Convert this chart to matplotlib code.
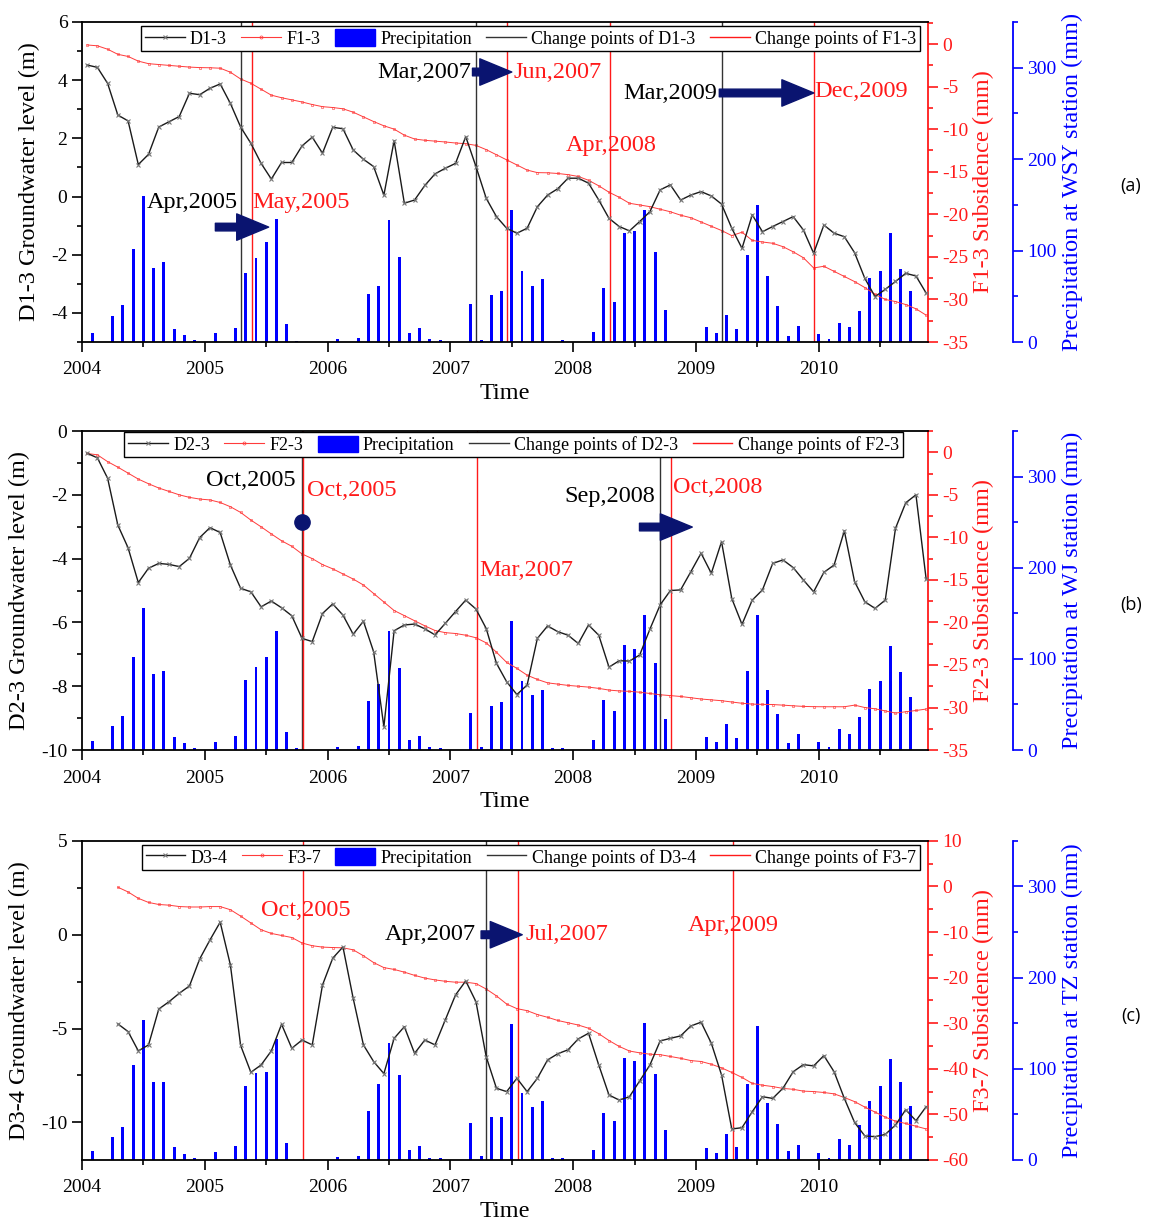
import numpy as np
import matplotlib.pyplot as plt
from matplotlib.lines import Line2D
from matplotlib.patches import Patch
from matplotlib.ticker import MultipleLocator

plt.rcParams['font.family'] = ['Liberation Serif', 'DejaVu Serif']
plt.rcParams['axes.unicode_minus'] = False

MONTHS = ["Jan", "Feb", "Mar", "Apr", "May", "Jun",
          "Jul", "Aug", "Sep", "Oct", "Nov", "Dec"]
N_MONTHS = 83  # Jan 2004 .. Nov 2010

# ---- groundwater level (m), monthly ----
d1_3 = [4.52, 4.44, 3.89, 2.80, 2.60, 1.10, 1.45, 2.39, 2.57, 2.75, 3.55, 3.50,
        3.72, 3.87, 3.20, 2.39, 1.83, 1.14, 0.60, 1.17, 1.17, 1.74, 2.04, 1.49,
        2.38, 2.33, 1.60, 1.28, 1.03, 0.05, 1.92, -0.23, -0.12, 0.38, 0.78, 0.97,
        1.14, 2.06, 1.03, -0.06, -0.69, -1.09, -1.26, -1.09, -0.35, 0.05, 0.27, 0.63,
        0.63, 0.46, -0.12, -0.75, -1.03, -1.18, -0.86, -0.52, 0.23, 0.40, -0.12, 0.05,
        0.17, 0.02, -0.26, -1.09, -1.78, -0.63, -1.21, -1.03, -0.86, -0.69, -1.15, -1.95,
        -0.98, -1.26, -1.38, -1.93, -2.81, -3.44, -3.19, -2.92, -2.64, -2.73, -3.32]
d2_3 = [-0.70, -0.84, -1.48, -2.95, -3.66, -4.75, -4.30, -4.15, -4.18, -4.25, -3.99, -3.34,
        -3.03, -3.18, -4.20, -4.93, -5.04, -5.51, -5.33, -5.54, -5.79, -6.50, -6.60, -5.72,
        -5.42, -5.77, -6.37, -5.96, -6.92, -9.27, -6.26, -6.08, -6.05, -6.20, -6.39, -6.03,
        -5.66, -5.30, -5.58, -6.19, -7.28, -7.86, -8.26, -7.96, -6.50, -6.11, -6.29, -6.40,
        -6.66, -6.08, -6.40, -7.40, -7.20, -7.21, -7.02, -6.21, -5.45, -5.00, -4.98, -4.41,
        -3.83, -4.46, -3.47, -5.25, -6.06, -5.30, -4.98, -4.15, -4.04, -4.28, -4.67, -5.04,
        -4.43, -4.20, -3.13, -4.72, -5.35, -5.56, -5.30, -3.05, -2.25, -2.00, -4.65]
# D3-4 starts in Apr 2004
d3_4 = [-4.75, -5.16, -6.19, -5.87, -3.96, -3.57, -3.12, -2.73, -1.29,
        -0.28, 0.67, -1.61, -5.90, -7.33, -6.94, -6.19, -4.77, -6.05, -5.61, -5.87, -2.68,
        -1.25, -0.65, -3.39, -5.87, -6.76, -7.40, -5.52, -4.90, -6.32, -5.61, -5.87, -4.54,
        -3.21, -2.46, -3.57, -6.50, -8.18, -8.36, -7.65, -8.36, -7.65, -6.67, -6.34, -6.13,
        -5.55, -5.25, -6.94, -8.54, -8.81, -8.63, -7.79, -6.94, -5.66, -5.52, -5.39, -4.86,
        -4.66, -5.78, -7.47, -10.35, -10.28, -9.43, -8.63, -8.72, -8.18, -7.30, -6.92, -6.99,
        -6.44, -7.30, -8.72, -10.00, -10.72, -10.76, -10.64, -10.14, -9.32, -9.91, -9.16]

# ---- subsidence (mm), monthly ----
f1_3 = [-0.1, -0.2, -0.6, -1.2, -1.45, -2.0, -2.3, -2.4, -2.5, -2.6, -2.7, -2.76,
        -2.78, -2.83, -3.3, -4.1, -4.6, -5.3, -6.0, -6.3, -6.55, -6.8, -7.1, -7.35,
        -7.45, -7.6, -8.0, -8.55, -9.1, -9.6, -9.99, -10.7, -11.15, -11.3, -11.4, -11.5,
        -11.62, -11.7, -11.9, -12.4, -13.0, -13.6, -14.2, -14.8, -15.1, -15.12, -15.2, -15.34,
        -15.55, -16.0, -16.65, -17.4, -18.0, -18.7, -18.9, -19.1, -19.4, -19.7, -20.1, -20.4,
        -20.9, -21.4, -21.9, -22.5, -22.1, -23.06, -23.25, -23.4, -23.8, -24.4, -25.1, -26.3,
        -26.1, -26.7, -27.3, -27.9, -28.6, -29.4, -30.0, -30.25, -30.6, -31.1, -31.85]
f2_3 = [-0.14, -0.3, -1.1, -1.75, -2.45, -3.15, -3.7, -4.2, -4.6, -5.0, -5.3, -5.5,
        -5.6, -5.9, -6.4, -7.07, -7.97, -8.76, -9.6, -10.4, -11.05, -11.95, -12.5, -13.2,
        -13.7, -14.3, -14.9, -15.6, -16.6, -17.6, -18.6, -19.2, -19.8, -20.4, -20.95, -21.2,
        -21.3, -21.5, -21.8, -22.4, -23.5, -24.7, -25.4, -26.2, -26.7, -27.1, -27.25, -27.4,
        -27.5, -27.6, -27.75, -27.95, -28.05, -28.1, -28.2, -28.35, -28.5, -28.6, -28.7, -28.85,
        -29.0, -29.1, -29.2, -29.35, -29.5, -29.6, -29.63, -29.65, -29.72, -29.8, -29.87, -29.9,
        -29.91, -29.91, -29.91, -29.72, -30.0, -30.15, -30.4, -30.65, -30.5, -30.35, -30.18]
f3_7 = [-0.16, -1.2, -2.6, -3.5, -3.95, -4.1, -4.4, -4.5, -4.5,
        -4.41, -4.41, -5.1, -6.5, -8.0, -9.5, -10.3, -10.75, -11.2, -12.4, -13.0, -13.3,
        -13.4, -13.45, -13.9, -15.2, -16.7, -17.8, -18.2, -18.8, -19.5, -20.1, -20.5, -20.8,
        -21.0, -21.0, -21.3, -22.5, -24.0, -25.8, -26.8, -27.25, -28.1, -28.7, -29.4, -29.9,
        -30.4, -31.1, -32.3, -33.8, -35.1, -36.1, -36.5, -36.8, -36.9, -37.3, -37.7, -38.2,
        -38.4, -39.0, -39.8, -40.8, -41.9, -43.2, -43.6, -43.9, -44.3, -44.5, -44.9, -45.0,
        -45.2, -45.5, -46.3, -47.2, -48.4, -49.5, -50.6, -51.5, -52.0, -52.6, -53.2]

# ---- monthly precipitation (mm) ----
p_wsy = [0, 10, 0, 28, 40, 102, 160, 81, 87, 14, 8, 2,
         0, 9.5, 0, 15, 75, 92, 109, 134, 20, 1.5, 0, 0,
         0, 3, 0, 4, 52, 61, 133, 93, 9.5, 15, 3, 2,
         0, 0, 42, 2, 51, 56, 144, 78, 61, 68.5, 0.5, 2,
         0, 0, 11, 59, 44, 119, 121, 144, 98, 35, 0, 0,
         0, 16, 9.5, 30, 14, 95, 150, 72, 39, 6.5, 17.5, 0,
         8.7, 3, 21, 16.4, 34, 70, 78, 119, 80, 56, 0]
p_wj = [0, 9.9, 0, 26.6, 37.6, 102, 156, 82.9, 86.5, 14.6, 7.3, 2.6,
        0, 9.1, 0, 15.3, 77.4, 91.6, 102, 131, 19.3, 1.8, 0, 0,
        0, 3.6, 0, 4.4, 53.7, 73, 130.7, 90.5, 11, 15.3, 2.9, 2.6,
        0, 0, 41.2, 3.6, 48.6, 52.2, 141.7, 75.6, 60.2, 66.4, 1.8, 2.6,
        0, 0, 11, 54.4, 43.1, 115, 110.6, 147.9, 95.7, 33.6, 0, 0,
        0, 13.9, 9.1, 28.5, 13.5, 86.5, 147.9, 66.4, 39.1, 8, 17.2, 0,
        8.4, 2.9, 23, 17.2, 36.5, 67.5, 75.9, 114.3, 85.1, 57.7, 0]
p_tz = [0, 9.9, 0, 25.6, 36.6, 104.2, 153.6, 85.2, 85.9, 14.6, 6.6, 2.6,
        0, 8.4, 0, 15.7, 81.2, 95.8, 96.9, 132.8, 18.3, 0, 0, 0,
        0, 2.9, 0, 4.4, 54.1, 83.4, 128, 93.3, 11, 15.7, 2.6, 1.8,
        0, 0, 40.2, 4.8, 47.6, 47.6, 148.9, 73.1, 58.5, 65.1, 1.8, 1.8,
        0, 0, 11, 51.2, 42.8, 111.5, 109, 150, 94, 32.6, 0, 0,
        0, 13.5, 8.1, 28.2, 14.3, 83.4, 147, 62.9, 39.1, 9.9, 16.5, 0,
        7.3, 1.8, 23, 16.5, 38.4, 65.1, 81.2, 110.4, 85.9, 59.2, 0]

# ---- change points ----
cp_d1_3 = ["Apr,2005", "Mar,2007", "Mar,2009"]
cp_f1_3 = ["May,2005", "Jun,2007", "Apr,2008", "Dec,2009"]
cp_d2_3 = ["Oct,2005", "Sep,2008"]
cp_f2_3 = ["Oct,2005", "Mar,2007", "Oct,2008"]
cp_d3_4 = ["Apr,2007"]
cp_f3_7 = ["Oct,2005", "Jul,2007", "Apr,2009"]

NAVY = "#0a1470"
RED = "#ff1a1a"
FRED = "#ff3b3b"
BLUE = "#0000ff"


def month_pos(label):
    mon, yr = label.split(",")
    return int(yr) + (MONTHS.index(mon) + 0.5) / 12


def mid_month(n, start=0):
    return 2004 + (np.arange(start, start + n) + 0.5) / 12


def style_ticks(a, color=None):
    kw = dict(which="both", direction="out", labelsize=14, width=1.2)
    if color:
        kw["colors"] = color
    a.tick_params(**kw)
    a.tick_params(which="major", length=7)
    a.tick_params(which="minor", length=3.5)


def draw_panel(rect, d, f, p, d_name, f_name, station, cp_d, cp_f,
               d_start, ylim_d, d_major, d_minor, ylim_f, f_major, f_minor,
               legend_anchor):
    ax = fig.add_axes(rect)
    ax_p = ax.twinx()
    ax_f = ax.twinx()
    ax.set_zorder(3)
    ax.patch.set_visible(False)
    ax_f.set_zorder(2)
    ax_p.set_zorder(1)

    t_bar = 2004 + np.arange(N_MONTHS) / 12
    ax_p.bar(t_bar, p, width=0.024, color=BLUE, linewidth=0)

    ax_f.plot(mid_month(len(f), d_start), f, color=FRED, lw=0.7,
              marker="o", ms=1.8, mfc="none", mew=0.4)

    for lab in cp_d:
        ax.axvline(month_pos(lab), color="#333333", lw=1.0)
    for lab in cp_f:
        ax.axvline(month_pos(lab) + 0.006, color=RED, lw=1.0)

    ax.plot(mid_month(len(d), d_start), d, color="#1a1a1a", lw=1.0,
            marker="x", ms=3.2, mec="#777777", mew=0.8)

    # axes cosmetics
    ax.set_xlim(2004, 2010.89)
    ax.set_ylim(*ylim_d)
    ax_f.set_ylim(*ylim_f)
    ax_p.set_ylim(0, 350)
    ax.xaxis.set_major_locator(MultipleLocator(1))
    ax.xaxis.set_minor_locator(MultipleLocator(0.5))
    ax.yaxis.set_major_locator(MultipleLocator(d_major))
    ax.yaxis.set_minor_locator(MultipleLocator(d_minor))
    ax_f.yaxis.set_major_locator(MultipleLocator(f_major))
    ax_f.yaxis.set_minor_locator(MultipleLocator(f_minor))
    ax_p.yaxis.set_major_locator(MultipleLocator(100))
    ax_p.yaxis.set_minor_locator(MultipleLocator(50))

    ax.spines["right"].set_visible(False)
    for a in (ax_f, ax_p):
        for s in ("left", "top", "bottom"):
            a.spines[s].set_visible(False)
    ax_f.spines["right"].set_color(RED)
    ax_p.spines["right"].set_color(BLUE)
    ax_p.spines["right"].set_position(("outward", 61))
    for a in (ax, ax_f, ax_p):
        for s in a.spines.values():
            s.set_linewidth(1.3)

    style_ticks(ax)
    ax.tick_params(axis="x", which="major", pad=7)
    style_ticks(ax_f, RED)
    style_ticks(ax_p, BLUE)

    ax.set_xlabel("Time", fontsize=17.5, labelpad=3)
    ax.set_ylabel(f"{d_name} Groundwater level (m)", fontsize=17.5, labelpad=8)
    ax_f.set_ylabel(f"{f_name} Subsidence (mm)", fontsize=17.5, color=RED,
                    labelpad=3)
    ax_p.set_ylabel(f"Precipitation at {station} station (mm)", fontsize=17.5,
                    color=BLUE, labelpad=4)

    handles = [
        Line2D([], [], color="#1a1a1a", lw=1.0, marker="x", ms=3.2,
               mec="#777777", mew=0.8),
        Line2D([], [], color=FRED, lw=0.8, marker="o", ms=2.2, mfc="none",
               mew=0.5),
        Patch(facecolor=BLUE, edgecolor=BLUE),
        Line2D([], [], color="#333333", lw=1.0),
        Line2D([], [], color=RED, lw=1.0),
    ]
    labels = [d_name, f_name, "Precipitation",
              f"Change points of {d_name}", f"Change points of {f_name}"]
    leg = ax.legend(handles, labels, ncol=5, loc="upper right",
                    bbox_to_anchor=legend_anchor, fontsize=13, frameon=True,
                    fancybox=False, edgecolor="black", framealpha=1,
                    borderpad=0.2, handlelength=2.2, handletextpad=0.3,
                    columnspacing=0.8, handleheight=1.0, borderaxespad=0)
    leg.get_frame().set_linewidth(1.0)
    return ax


def arrow(ax, x0, x1, y):
    ax.annotate("", xy=(x1, y), xytext=(x0, y),
                arrowprops=dict(arrowstyle="simple,head_width=1.9,head_length=2.3,tail_width=0.55",
                                color=NAVY, mutation_scale=10,
                                shrinkA=0, shrinkB=0))


fig = plt.figure(figsize=(11.57, 12.21), dpi=100)
LEFT, WIDTH = 0.0709, 0.7312

ax_a = draw_panel([LEFT, 0.7199, WIDTH, 0.2621], d1_3, f1_3, p_wsy,
                  "D1-3", "F1-3", "WSY", cp_d1_3, cp_f1_3, 0,
                  (-5, 6), 2, 1, (-35, 2.6), 5, 2.5, (0.9905, 0.988))
ax_b = draw_panel([LEFT, 0.3857, WIDTH, 0.2613], d2_3, f2_3, p_wj,
                  "D2-3", "F2-3", "WJ", cp_d2_3, cp_f2_3, 0,
                  (-10, 0), 2, 1, (-35, 2.5), 5, 2.5, (0.970, 0.997))
ax_c = draw_panel([LEFT, 0.0500, WIDTH, 0.2613], d3_4, f3_7, p_tz,
                  "D3-4", "F3-7", "TZ", cp_d3_4, cp_f3_7, 3,
                  (-12, 5), 5, 2.5, (-60, 10), 10, 5, (0.9905, 0.988))

FS = 17.5
# panel (a) annotations
ax_a.text(2005.273, -0.19, "Apr,2005", fontsize=FS, ha="right", va="center")
ax_a.text(2005.388, -0.19, "May,2005", fontsize=FS, ha="left", va="center", color=RED)
arrow(ax_a, 2005.086, 2005.52, -1.05)
ax_a.text(2007.167, 4.28, "Mar,2007", fontsize=FS, ha="right", va="center")
arrow(ax_a, 2007.18, 2007.50, 4.28)
ax_a.text(2007.51, 4.28, "Jun,2007", fontsize=FS, ha="left", va="center", color=RED)
ax_a.text(2008.31, 1.77, "Apr,2008", fontsize=FS, ha="center", va="center", color=RED)
ax_a.text(2009.176, 3.53, "Mar,2009", fontsize=FS, ha="right", va="center")
arrow(ax_a, 2009.19, 2009.96, 3.56)
ax_a.text(2009.967, 3.6, "Dec,2009", fontsize=FS, ha="left", va="center", color=RED)

# panel (b) annotations
ax_b.text(2005.739, -1.54, "Oct,2005", fontsize=FS, ha="right", va="center")
ax_b.text(2005.829, -1.85, "Oct,2005", fontsize=FS, ha="left", va="center", color=RED)
ax_b.plot([month_pos("Oct,2005")], [-2.85], "o", color=NAVY, ms=11, zorder=6)
ax_b.text(2007.233, -4.36, "Mar,2007", fontsize=FS, ha="left", va="center", color=RED)
ax_b.text(2008.669, -2.04, "Sep,2008", fontsize=FS, ha="right", va="center")
arrow(ax_b, 2008.54, 2008.97, -3.01)
ax_b.text(2008.816, -1.76, "Oct,2008", fontsize=FS, ha="left", va="center", color=RED)

# panel (c) annotations
ax_c.text(2005.82, 1.27, "Oct,2005", fontsize=FS, ha="center", va="center", color=RED)
ax_c.text(2007.208, 0.0, "Apr,2007", fontsize=FS, ha="right", va="center")
arrow(ax_c, 2007.25, 2007.585, 0.0)
ax_c.text(2007.608, 0.0, "Jul,2007", fontsize=FS, ha="left", va="center", color=RED)
ax_c.text(2009.306, 0.47, "Apr,2009", fontsize=FS, ha="center", va="center", color=RED)

for lab, y in (("(a)", 186), ("(b)", 605), ("(c)", 1016)):
    fig.text(1131 / 1157, 1 - y / 1221, lab, fontsize=13, ha="center",
             va="center", family=["Open Sans", "DejaVu Sans"])

fig.savefig("out.png", dpi=100)
